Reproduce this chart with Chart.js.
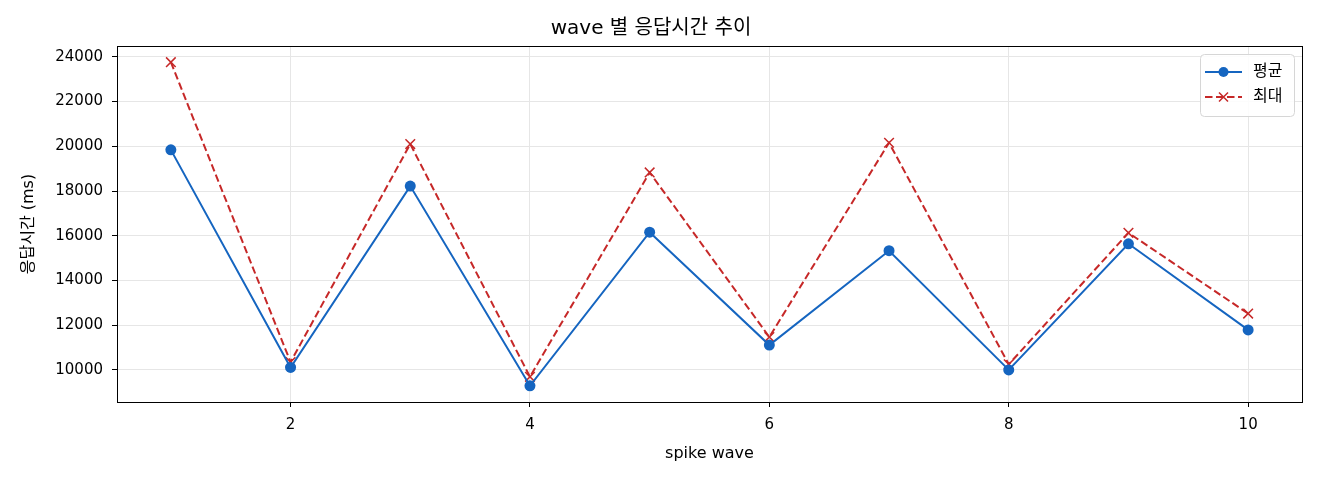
<!DOCTYPE html>
<html lang="ko">
<head>
<meta charset="utf-8">
<title>wave 별 응답시간 추이</title>
<script src="https://cdn.jsdelivr.net/npm/chart.js@4.4.1/dist/chart.umd.min.js"></script>
<style>
    html, body { margin: 0; padding: 0; background: #fff; }
    .chart-box { width: 1320px; height: 480px; position: relative; }
</style>
</head>
<body>
<div class="chart-box"><canvas id="waveChart"></canvas></div>
<script>
const waves = [1, 2, 3, 4, 5, 6, 7, 8, 9, 10];
const avgMs = [19840, 10110, 18220, 9290, 16160, 11110, 15330, 10000, 15640, 11790];
const maxMs = [23760, 10350, 20100, 9690, 18830, 11470, 20160, 10250, 16130, 12520];
const xTicks = [2, 4, 6, 8, 10];
const yTicks = [10000, 12000, 14000, 16000, 18000, 20000, 22000, 24000];
const seriesNames = ['평균', '최대'];

const FONT = "'DejaVu Sans', 'Noto Sans CJK KR', sans-serif";
const BLUE = '#1565c0';
const RED = '#c62828';

document.addEventListener('DOMContentLoaded', function() {
    initWaveChart();
});

// axes frame (matplotlib style full box)
const frameBox = {
    id: 'frameBox',
    afterDatasetsDraw(chart) {
        const a = chart.chartArea;
        const ctx = chart.ctx;
        ctx.save();
        ctx.strokeStyle = '#000';
        ctx.lineWidth = 1;
        ctx.strokeRect(Math.round(a.left) + 0.5, Math.round(a.top) + 0.5,
            Math.round(a.right - a.left), Math.round(a.bottom - a.top));
        ctx.restore();
    }
};

// legend drawn inside the plot, upper right
const innerLegend = {
    id: 'innerLegend',
    afterDraw(chart) {
        const a = chart.chartArea;
        const ctx = chart.ctx;
        const w = 94, h = 62;
        const x = a.right - 8 - w;
        const y = a.top + 8;
        ctx.save();
        ctx.beginPath();
        ctx.roundRect(x + 0.5, y + 0.5, w, h, 4);
        ctx.fillStyle = 'rgba(255,255,255,0.85)';
        ctx.fill();
        ctx.strokeStyle = '#d6d6d6';
        ctx.lineWidth = 1;
        ctx.stroke();

        chart.data.datasets.forEach((ds, i) => {
            const rowY = y + 18 + i * 25;
            const x0 = x + 5, x1 = x + 42;
            ctx.strokeStyle = ds.borderColor;
            ctx.lineWidth = 2;
            ctx.setLineDash(ds.borderDash || []);
            ctx.beginPath();
            ctx.moveTo(x0, rowY);
            ctx.lineTo(x1, rowY);
            ctx.stroke();
            ctx.setLineDash([]);
            const cx = (x0 + x1) / 2;
            if (ds.pointStyle === 'circle') {
                ctx.fillStyle = ds.pointBackgroundColor;
                ctx.beginPath();
                ctx.arc(cx, rowY, 5, 0, Math.PI * 2);
                ctx.fill();
            } else {
                ctx.lineWidth = 1.5;
                ctx.beginPath();
                ctx.moveTo(cx - 4.5, rowY - 4.5);
                ctx.lineTo(cx + 4.5, rowY + 4.5);
                ctx.moveTo(cx + 4.5, rowY - 4.5);
                ctx.lineTo(cx - 4.5, rowY + 4.5);
                ctx.stroke();
            }
            ctx.fillStyle = '#000';
            ctx.font = "16px " + FONT;
            ctx.textBaseline = 'middle';
            ctx.textAlign = 'left';
            ctx.fillText(ds.label, x + 53, rowY);
        });
        ctx.restore();
    }
};

function initWaveChart() {
    const ctx = document.getElementById('waveChart');
    if (!ctx) return;

    window.waveChart = new Chart(ctx, {
        type: 'line',
        data: {
            datasets: [{
                label: seriesNames[0],
                data: waves.map((w, i) => ({ x: w, y: avgMs[i] })),
                borderColor: BLUE,
                backgroundColor: BLUE,
                borderWidth: 2,
                pointStyle: 'circle',
                pointRadius: 5.5,
                pointBackgroundColor: BLUE,
                pointBorderColor: BLUE,
                pointBorderWidth: 0,
                tension: 0,
                fill: false
            }, {
                label: seriesNames[1],
                data: waves.map((w, i) => ({ x: w, y: maxMs[i] })),
                borderColor: RED,
                backgroundColor: RED,
                borderWidth: 2,
                borderDash: [7.5, 3.5],
                pointStyle: 'crossRot',
                pointRadius: 6.8,
                pointBackgroundColor: RED,
                pointBorderColor: RED,
                pointBorderWidth: 1.5,
                tension: 0,
                fill: false
            }]
        },
        options: {
            responsive: true,
            maintainAspectRatio: false,
            devicePixelRatio: 1,
            animation: false,
            layout: {
                padding: { left: 0, right: 18, top: 0, bottom: 0 }
            },
            plugins: {
                legend: { display: false },
                tooltip: { enabled: false },
                title: {
                    display: true,
                    text: 'wave 별 응답시간 추이',
                    color: '#000',
                    font: { size: 20, weight: 'normal', family: FONT },
                    padding: { top: 17, bottom: 5 }
                }
            },
            scales: {
                x: {
                    type: 'linear',
                    min: 0.55,
                    max: 10.45,
                    afterBuildTicks: function(scale) {
                        scale.ticks = xTicks.map(v => ({ value: v }));
                    },
                    afterFit: function(scale) {
                        scale.height = 78;
                    },
                    grid: {
                        color: '#e6e6e6',
                        lineWidth: 1,
                        drawTicks: true,
                        tickLength: 5,
                        tickColor: '#000',
                        tickWidth: 1
                    },
                    border: { display: true, color: '#000', width: 1 },
                    ticks: {
                        color: '#000',
                        padding: 9,
                        maxRotation: 0,
                        font: { size: 15, family: FONT }
                    },
                    title: {
                        display: true,
                        text: 'spike wave',
                        color: '#000',
                        font: { size: 16, family: FONT },
                        padding: { top: 4, bottom: 17 }
                    }
                },
                y: {
                    min: 8565,
                    max: 24485,
                    afterBuildTicks: function(scale) {
                        scale.ticks = yTicks.map(v => ({ value: v }));
                    },
                    afterFit: function(scale) {
                        scale.width = 117;
                    },
                    grid: {
                        color: '#e6e6e6',
                        lineWidth: 1,
                        drawTicks: true,
                        tickLength: 5,
                        tickColor: '#000',
                        tickWidth: 1
                    },
                    border: { display: true, color: '#000', width: 1 },
                    ticks: {
                        color: '#000',
                        padding: 9,
                        font: { size: 15, family: FONT },
                        callback: function(value) {
                            return String(value);
                        }
                    },
                    title: {
                        display: true,
                        text: '응답시간 (ms)',
                        color: '#000',
                        font: { size: 16, family: FONT },
                        padding: { top: 19, bottom: 4 }
                    }
                }
            }
        },
        plugins: [frameBox, innerLegend]
    });
}
</script>
</body>
</html>
